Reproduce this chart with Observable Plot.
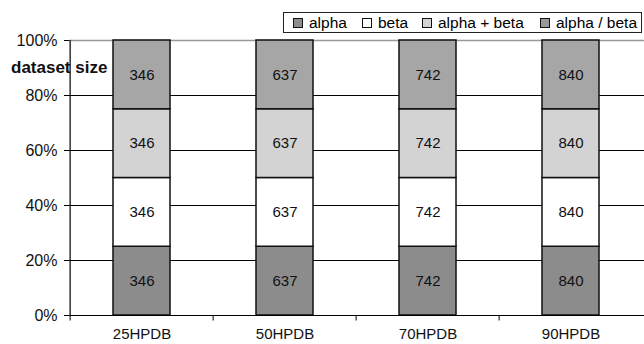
<!DOCTYPE html>
<html>
<head>
<meta charset="utf-8">
<script src="https://cdn.jsdelivr.net/npm/d3@7"></script>
<script src="https://cdn.jsdelivr.net/npm/@observablehq/plot@0.6"></script>
<style>
  html, body { margin: 0; padding: 0; background: #fff; }
  #wrap { position: relative; width: 644px; height: 344px; font-family: "Liberation Sans", Arial, sans-serif; }
  #legend { position: absolute; left: 283px; top: 12px; width: 357px; height: 19px; border: 1px solid #222; background: #fff; font-size: 15.5px; z-index: 2; }
  .item { position: absolute; top: 0; height: 19px; line-height: 19px; white-space: nowrap; }
  .sw { display: inline-block; width: 8px; height: 8px; border: 1px solid #111; vertical-align: 0px; margin-right: 6px; }
  #ylab { position: absolute; left: 11px; top: 59px; font-size: 17px; line-height: 17px; font-weight: bold; color: #111; z-index: 0; }
  svg { position: absolute; left: 0; top: 0; z-index: 1; }
</style>
</head>
<body>
<div id="wrap"><div id="ylab">dataset size</div></div>
<script>
const categories = ["25HPDB", "50HPDB", "70HPDB", "90HPDB"];
const datasetSizes = [346, 637, 742, 840];
const seriesNames = ["alpha", "beta", "alpha + beta", "alpha / beta"];
const seriesColors = ["#8c8c8c", "#ffffff", "#d3d3d3", "#a6a6a6"];
const yTicks = [0, 0.2, 0.4, 0.6, 0.8, 1];

const data = [];
seriesNames.forEach(s => categories.forEach((c, i) => data.push({category: c, series: s, value: datasetSizes[i]})));

const fontFamily = '"Liberation Sans", Arial, sans-serif';

const plot = Plot.plot({
  width: 644,
  height: 344,
  marginTop: 40,
  marginBottom: 29,
  marginLeft: 69,
  marginRight: 0,
  style: {fontFamily, fontSize: "15px", color: "#111", background: "transparent"},
  x: {domain: categories, paddingInner: 0.6, paddingOuter: 0.3, label: null},
  y: {domain: [0, 1], label: null},
  color: {domain: seriesNames, range: seriesColors},
  marks: [
    Plot.ruleY(yTicks.filter(t => t > 0 && t < 1), {stroke: "#000", strokeWidth: 1}),
    Plot.ruleY([1], {stroke: "#999", strokeWidth: 1.5}),
    Plot.barY(data, Plot.stackY({x: "category", y: "value", z: "series", fill: "series", offset: "normalize", stroke: "#111", strokeWidth: 1.5})),
    Plot.text(data, Plot.stackY({x: "category", y: "value", z: "series", offset: "normalize", text: d => String(d.value), fill: "#111", fontSize: 15})),
    Plot.ruleY([0], {stroke: "#000", strokeWidth: 1.2}),
    Plot.ruleX([0], {x: () => categories[0], dx: -71.875, y1: 0, y2: 1, stroke: "#000", strokeWidth: 1.2}),
    Plot.ruleX(categories, {x: d => d, dx: -71.875, y1: 0, y2: -0.02, stroke: "#000", strokeWidth: 1}),
    Plot.axisY({ticks: yTicks, tickFormat: d => Math.round(d * 100) + "%", tickSize: 5, tickPadding: 7, stroke: "#000", fill: "#111", fontSize: 16}),
    Plot.axisX({tickSize: 0, tickPadding: 13, fill: "#111", fontSize: 15})
  ]
});

const wrap = document.getElementById("wrap");
wrap.appendChild(plot);

const legend = document.createElement("div");
legend.id = "legend";
const lefts = [9, 78, 138, 256];
seriesNames.forEach((s, i) => {
  const it = document.createElement("span");
  it.className = "item";
  it.style.left = lefts[i] + "px";
  const sw = document.createElement("span");
  sw.className = "sw";
  sw.style.background = seriesColors[i] === "#a6a6a6" ? "#999" : seriesColors[i];
  it.appendChild(sw);
  it.appendChild(document.createTextNode(s));
  legend.appendChild(it);
});
wrap.appendChild(legend);
</script>
</body>
</html>
